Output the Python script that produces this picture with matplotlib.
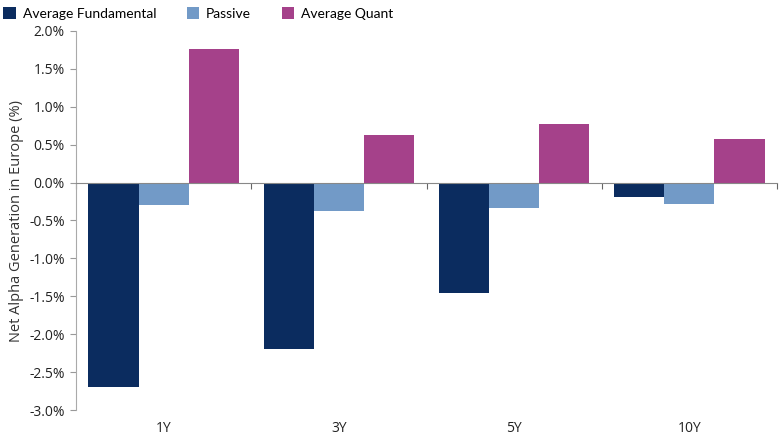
import matplotlib.pyplot as plt
import numpy as np

periods = ['1Y', '3Y', '5Y', '10Y']
fundamental = [-2.70, -2.20, -1.46, -0.19]
passive = [-0.30, -0.38, -0.33, -0.28]
quant = [1.76, 0.63, 0.77, 0.58]

series = ['Average Fundamental', 'Passive', 'Average Quant']
colors = ['#0b2c5f', '#729ac7', '#a5418a']

plt.rcParams['font.family'] = ['Open Sans', 'DejaVu Sans']

fig = plt.figure(figsize=(7.8, 4.4), dpi=100)
ax = fig.add_axes([76 / 780, 1 - 410 / 440, 701 / 780, 379 / 440])

x = np.arange(len(periods))
w = 0.286
for i, (vals, name, c) in enumerate(zip([fundamental, passive, quant], series, colors)):
    ax.bar(x + (i - 1) * w, vals, w, color=c, label=name, edgecolor='none')

ax.set_xlim(-0.5, len(periods) - 0.5)
ax.set_ylim(-3.0, 2.0)
ax.set_yticks(np.arange(-3.0, 2.01, 0.5))
ax.set_yticklabels([f'{v:.1f}%' for v in np.arange(-3.0, 2.01, 0.5)])
ax.tick_params(axis='y', direction='out', length=4, color='#999999',
               labelsize=10, labelcolor='#222222', pad=4)

# x axis line sits on zero, category labels at bottom
for s in ['top', 'right']:
    ax.spines[s].set_visible(False)
ax.spines['left'].set_color('#aaaaaa')
ax.spines['bottom'].set_position(('data', 0))
ax.spines['bottom'].set_color('#888888')
ax.spines['bottom'].set_zorder(3)
ax.set_xticks(np.arange(len(periods) + 1) - 0.5)
ax.set_xticklabels([])
ax.tick_params(axis='x', direction='out', length=4, color='#666666')
for xi, p in zip(x, periods):
    ax.text(xi, -0.05, p, transform=ax.get_xaxis_transform(), ha='center', va='center',
            fontsize=10, color='#222222')

ax.set_ylabel('Net Alpha Generation in Europe (%)', fontsize=10.5, color='#333333', labelpad=4)

fig.legend(loc='upper left', bbox_to_anchor=(-0.012, 1.012), ncol=3, frameon=False,
           handlelength=0.9, handleheight=0.9, handletextpad=0.5, columnspacing=2.2,
           prop={'family': 'Lato', 'size': 10})

fig.savefig('out.png', dpi=100)
